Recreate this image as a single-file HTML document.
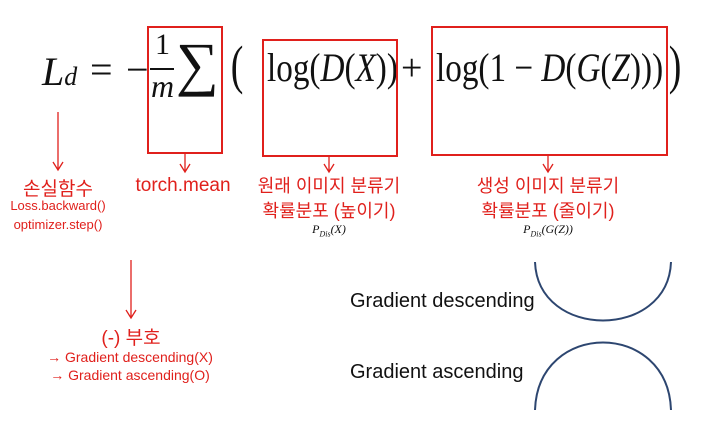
<!DOCTYPE html>
<html><head><meta charset="utf-8"><style>
body{margin:0;width:712px;height:443px;background:#fff;position:relative;overflow:hidden;font-family:"Liberation Sans","Noto Sans CJK KR",sans-serif}
.a{position:absolute;white-space:nowrap}
.m{font-family:"Liberation Serif","DejaVu Serif",serif;color:#111}
.r{color:#e0201c;text-align:center}
.box{position:absolute;border:2px solid #e0201c}
.s{transform:scaleX(0.83);transform-origin:0 0}
</style></head><body>
<div class="a m" style="left:42px;top:48px;font-size:40px;font-style:italic">L<span style="font-size:26px">d</span></div>
<div class="a m" style="left:90px;top:46px;font-size:40px">=</div>
<div class="a m" style="left:126px;top:46px;font-size:40px">−</div>
<div class="a m" style="left:155px;top:28px;font-size:30px">1</div>
<div class="a" style="left:150px;top:68px;width:24px;height:2px;background:#111"></div>
<div class="a m" style="left:151px;top:68px;font-size:32px;font-style:italic">m</div>
<div class="a m" style="left:176px;top:30px;font-size:60px">∑</div>
<div class="a m" style="left:228px;top:34px;font-size:54px;transform:scaleX(0.7)">(</div>
<div class="a m s" style="left:267px;top:44px;font-size:40px">log(<i>D</i>(<i>X</i>))</div>
<div class="a m" style="left:401px;top:46px;font-size:38px">+</div>
<div class="a m s" style="left:436px;top:44px;font-size:40px">log(1 − <i>D</i>(<i>G</i>(<i>Z</i>)))</div>
<div class="a m" style="left:666px;top:34px;font-size:54px;transform:scaleX(0.7)">)</div>
<div class="box" style="left:147px;top:26px;width:72px;height:124px"></div>
<div class="box" style="left:262px;top:39px;width:132px;height:114px"></div>
<div class="box" style="left:431px;top:26px;width:233px;height:126px"></div>
<svg class="a" style="left:0;top:0" width="712" height="443">
<g stroke="#e0201c" stroke-width="1.3" fill="none">
<path d="M58 112V170M53 162L58 170L63 162"/>
<path d="M185 152V172M180 164L185 172L190 164"/>
<path d="M329 155V172M324 164L329 172L334 164"/>
<path d="M548 155V172M543 164L548 172L553 164"/>
<path d="M131 260V318M126 310L131 318L136 310"/>
</g>
<g stroke="#2d4670" stroke-width="2" fill="none">
<path d="M535 262C538 340 668 340 671 262"/>
<path d="M535 410C538 320 668 320 671 410"/>
</g>
</svg>
<div class="a r" style="left:8px;top:174px;width:100px;font-size:19px">손실함수</div>
<div class="a r" style="left:0;top:196px;width:116px;font-size:13px;line-height:19px">Loss.backward()<br>optimizer.step()</div>
<div class="a r" style="left:128px;top:175px;width:110px;font-size:19px">torch.mean</div>
<div class="a r" style="left:229px;top:174px;width:200px;font-size:18px;line-height:25px">원래 이미지 분류기<br>확률분포 (높이기)</div>
<div class="a r m" style="left:279px;top:222px;width:100px;font-size:12px;font-style:italic;color:#111">P<sub style="font-size:8px">Dis</sub>(X)</div>
<div class="a r" style="left:448px;top:174px;width:200px;font-size:18px;line-height:25px">생성 이미지 분류기<br>확률분포 (줄이기)</div>
<div class="a r m" style="left:498px;top:222px;width:100px;font-size:12px;font-style:italic;color:#111">P<sub style="font-size:8px">Dis</sub>(G(Z))</div>
<div class="a r" style="left:81px;top:323px;width:100px;font-size:19px">(-) 부호</div>
<div class="a r" style="left:30px;top:348px;width:200px;font-size:14px;line-height:18px">→ Gradient descending(X)<br>→ Gradient ascending(O)</div>
<div class="a" style="left:350px;top:290px;font-size:20px;color:#111">Gradient descending</div>
<div class="a" style="left:350px;top:361px;font-size:20px;color:#111">Gradient ascending</div>
</body></html>
